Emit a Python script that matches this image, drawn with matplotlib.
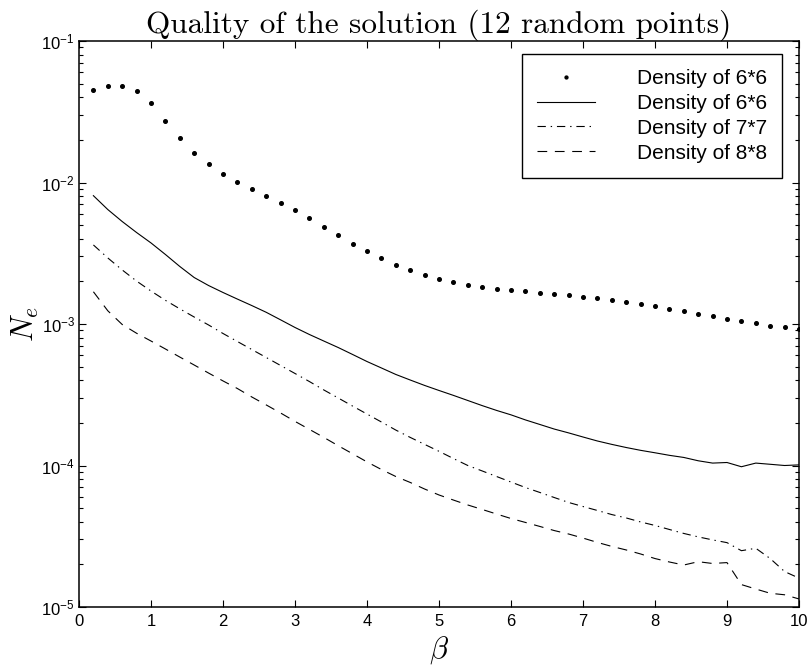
import numpy as np
import matplotlib
matplotlib.use('Agg')
import matplotlib.pyplot as plt

plt.rcParams['font.family'] = ['Liberation Sans', 'DejaVu Sans']
plt.rcParams['mathtext.fontset'] = 'custom'
plt.rcParams['mathtext.rm'] = 'Liberation Sans'
plt.rcParams['lines.scale_dashes'] = False

beta = np.linspace(0.2, 10.0, 50)

# 6*6 grid, sampled points
dens6_pts = [0.0449, 0.0481, 0.0481, 0.0443, 0.0363, 0.0274, 0.0206, 0.01625, 0.01345, 0.01148,
             0.01009, 0.00899, 0.00805, 0.00720, 0.00637, 0.00559, 0.00488, 0.00426, 0.00370, 0.00328,
             0.00291, 0.00261, 0.00239, 0.00221, 0.00207, 0.00197, 0.00189, 0.00183, 0.00178, 0.00174,
             0.00171, 0.00166, 0.00163, 0.00160, 0.00156, 0.00152, 0.00148, 0.00143, 0.00138, 0.00133,
             0.00128, 0.00123, 0.00118, 0.00113, 0.00109, 0.00105, 0.00101, 0.000973, 0.000948, 0.000918]

# 6*6 grid
dens6 = [8.07e-3, 6.44e-3, 5.30e-3, 4.43e-3, 3.74e-3, 3.10e-3, 2.55e-3, 2.13e-3, 1.87e-3, 1.67e-3,
         1.50e-3, 1.35e-3, 1.21e-3, 1.07e-3, 9.45e-4, 8.43e-4, 7.58e-4, 6.82e-4, 6.09e-4, 5.43e-4,
         4.89e-4, 4.40e-4, 4.02e-4, 3.68e-4, 3.39e-4, 3.13e-4, 2.88e-4, 2.65e-4, 2.45e-4, 2.28e-4,
         2.10e-4, 1.95e-4, 1.81e-4, 1.70e-4, 1.59e-4, 1.49e-4, 1.41e-4, 1.34e-4, 1.28e-4, 1.23e-4,
         1.18e-4, 1.14e-4, 1.08e-4, 1.04e-4, 1.05e-4, 9.80e-5, 1.04e-4, 1.02e-4, 1.00e-4, 1.01e-4]

# 7*7 grid
dens7 = [3.62e-3, 2.93e-3, 2.41e-3, 2.01e-3, 1.71e-3, 1.47e-3, 1.28e-3, 1.12e-3, 9.84e-4, 8.57e-4,
         7.52e-4, 6.60e-4, 5.80e-4, 5.09e-4, 4.47e-4, 3.92e-4, 3.42e-4, 3.00e-4, 2.63e-4, 2.31e-4,
         2.03e-4, 1.78e-4, 1.58e-4, 1.41e-4, 1.26e-4, 1.12e-4, 1.00e-4, 9.15e-5, 8.36e-5, 7.64e-5,
         6.99e-5, 6.45e-5, 5.94e-5, 5.48e-5, 5.13e-5, 4.81e-5, 4.50e-5, 4.26e-5, 3.99e-5, 3.77e-5,
         3.53e-5, 3.31e-5, 3.13e-5, 2.98e-5, 2.85e-5, 2.50e-5, 2.60e-5, 2.20e-5, 1.78e-5, 1.60e-5]

# 8*8 grid
dens8 = [1.69e-3, 1.24e-3, 9.92e-4, 8.60e-4, 7.58e-4, 6.66e-4, 5.84e-4, 5.13e-4, 4.50e-4, 3.96e-4,
         3.50e-4, 3.05e-4, 2.68e-4, 2.35e-4, 2.05e-4, 1.80e-4, 1.58e-4, 1.38e-4, 1.21e-4, 1.06e-4,
         9.37e-5, 8.36e-5, 7.59e-5, 6.82e-5, 6.19e-5, 5.70e-5, 5.26e-5, 4.89e-5, 4.54e-5, 4.22e-5,
         3.96e-5, 3.71e-5, 3.47e-5, 3.28e-5, 3.07e-5, 2.86e-5, 2.68e-5, 2.53e-5, 2.37e-5, 2.20e-5,
         2.08e-5, 1.98e-5, 2.09e-5, 2.03e-5, 2.06e-5, 1.44e-5, 1.34e-5, 1.25e-5, 1.22e-5, 1.14e-5]

labels = ['Density of 6*6', 'Density of 6*6', 'Density of 7*7', 'Density of 8*8']

fig = plt.figure(figsize=(8.09, 6.65), dpi=100)
ax = fig.add_axes([79 / 809, 58 / 665, 720 / 809, 566 / 665])

lw = 0.8
ax.plot(beta, dens6_pts, 'o', color='k', markersize=2.6, linestyle='none', label=labels[0])
ax.plot(beta, dens6, '-', color='k', lw=lw, label=labels[1])
ax.plot(beta, dens7, color='k', lw=lw, dashes=(6, 3.5, 1, 3.5), label=labels[2])
ax.plot(beta, dens8, color='k', lw=lw, dashes=(7, 5.5), label=labels[3])

ax.set_yscale('log')
ax.set_xlim(0, 10)
ax.set_ylim(1e-5, 1e-1)
ax.set_xticks(range(0, 11))

ax.tick_params(which='both', direction='in', top=True, right=True, labelsize=12, width=0.8)
ax.tick_params(which='major', length=5)
ax.tick_params(which='minor', length=3)
ax.tick_params(axis='x', pad=5)
ax.tick_params(axis='y', pad=3)
for s in ax.spines.values():
    s.set_linewidth(1.1)

ax.set_title('Quality of the solution (12 random points)', fontfamily='cmr10', fontsize=22.5, pad=2)
ax.set_xlabel(r'$\beta$', fontsize=22, math_fontfamily='cm', labelpad=4)
ax.set_ylabel(r'$N_e$', fontsize=22, math_fontfamily='cm', labelpad=0)

leg = ax.legend(loc='upper right', bbox_to_anchor=(0.976, 0.977), borderaxespad=0,
                fancybox=False, framealpha=1, edgecolor='k', fontsize=15,
                handlelength=2.8, handletextpad=2.0, labelspacing=0.28,
                borderpad=0.72, markerscale=0.8)
leg.get_frame().set_linewidth(1.0)

fig.savefig('out.png', dpi=100)
